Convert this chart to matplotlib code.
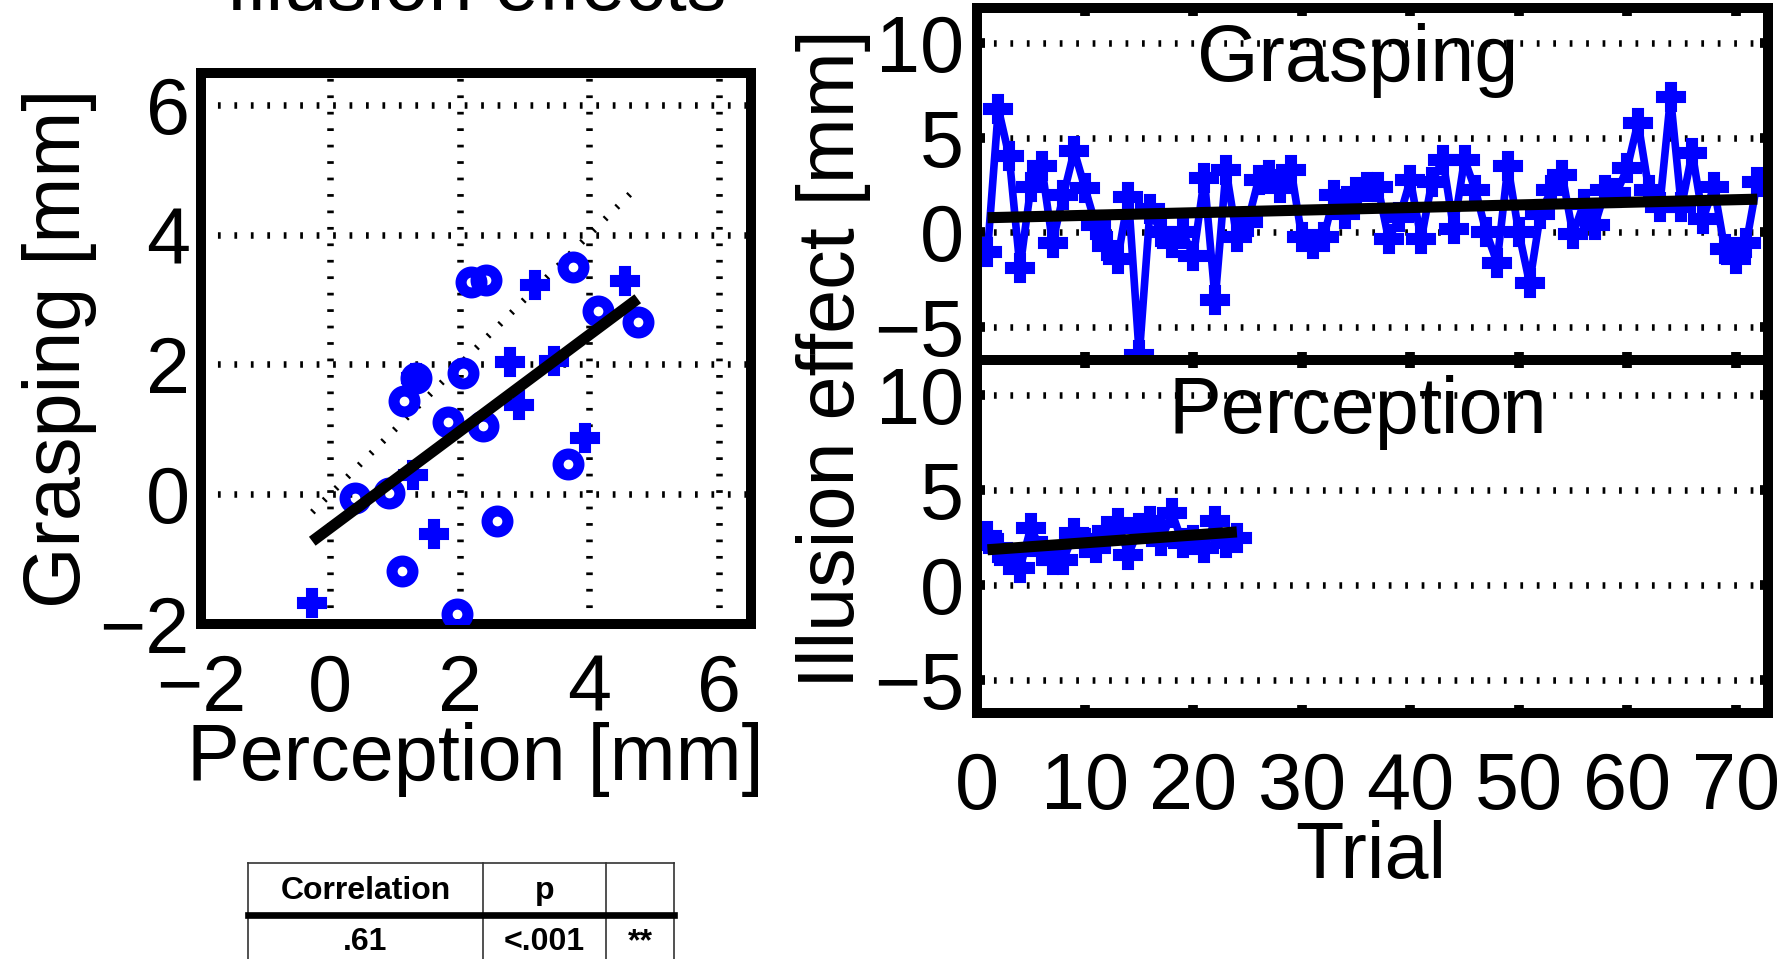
import numpy as np
import matplotlib
matplotlib.use('Agg')
import matplotlib.pyplot as plt

plt.rcParams['font.family'] = ['Liberation Sans', 'DejaVu Sans']

# Efectos de la ilusion por sujeto [mm]
perc_circ = [2.17, 2.40, 3.75, 4.13, 4.75, 2.05, 1.32, 1.13, 1.82, 2.36, 3.68, 0.38, 0.90, 2.58, 1.10, 1.96]
grasp_circ = [3.27, 3.30, 3.50, 2.83, 2.65, 1.87, 1.79, 1.44, 1.11, 1.05, 0.47, -0.06, 0.01, -0.41, -1.19, -1.85]
perc_plus = [3.17, 4.55, 2.78, 3.46, 2.92, 3.94, 1.28, 1.60, -0.28, 1.32]
grasp_plus = [3.22, 3.29, 2.04, 2.06, 1.37, 0.86, 0.29, -0.62, -1.68, 1.79]
ajuste_pendiente = 0.744
ajuste_intercepto = -0.52

# Efecto por ensayo
grasp_ensayos = [-1.04, 6.52, 4.02, -1.88, 2.41, 3.48, -0.54, 1.96, 4.29, 2.32,
                 0.36, -0.71, -1.43, 1.88, -6.5, 1.25, 0.0, -0.54, 0.0, -1.25,
                 2.86, -3.57, 3.3, -0.27, 0.54, 2.77, 3.04, 2.32, 3.3, -0.27,
                 -0.63, -0.27, 1.96, 0.98, 2.14, 2.41, 2.41, -0.36, 0.8, 2.77,
                 -0.36, 2.68, 3.84, 0.18, 3.84, 2.23, 0.0, -1.6, 3.48, 0.0,
                 -2.68, 0.98, 2.23, 3.04, -0.09, 1.52, 0.36, 2.23, 2.05, 3.39,
                 5.8, 2.23, 1.34, 7.14, 1.34, 4.2, 0.71, 2.41, -0.89, -1.43,
                 -0.54, 2.68]
perc_ensayos = [2.57, 1.95, 1.33, 0.89, 3.01, 1.77, 1.33, 1.33, 2.75, 2.22,
                1.95, 2.84, 3.28, 1.6, 3.01, 3.37, 2.3, 3.81, 2.22, 2.39,
                1.95, 3.37, 2.22, 2.48]
grasp_ajuste = (0.756, 0.0138)   # intercepto, pendiente
perc_ajuste = (1.81, 0.0409)

# Tabla de correlacion
tabla_cab = ['Correlation', 'p', '']
tabla_fila = ['.61', '<.001', '**']

azul = '#0000ff'
fs = 57
estilo_grid = dict(color='k', lw=4.7, ls=(0, (0.42, 2.1)))

fig = plt.figure(figsize=(17.77, 9.59), dpi=100)

# ---- Diagrama de dispersion ----
ax1 = fig.add_axes([0.1131, 0.3497, 0.3095, 0.5743])
ax1.set_xlim(-2, 6.5)
ax1.set_ylim(-2, 6.5)
ax1.set_xticks([-2, 0, 2, 4, 6])
ax1.set_yticks([-2, 0, 2, 4, 6])
ax1.grid(True, zorder=0, **estilo_grid)
ax1.set_axisbelow(True)

todos_x = np.array(perc_circ + perc_plus)
x_lin = np.array([todos_x.min(), todos_x.max()])
ax1.plot(x_lin, x_lin, color='k', lw=4.5, ls=(0, (0.35, 2.3)), zorder=1)
ax1.plot(perc_plus, grasp_plus, 'P', color=azul, mec=azul, ms=20, mew=1.5, zorder=2)
ax1.plot(perc_circ, grasp_circ, 'o', mec=azul, mfc='none', ms=15, mew=8, zorder=3)
ax1.plot(x_lin, ajuste_intercepto + ajuste_pendiente * x_lin, color='k', lw=8,
         solid_capstyle='butt', zorder=4)
ax1.tick_params(length=0, labelsize=fs)
ax1.tick_params(axis='x', pad=21)
ax1.tick_params(axis='y', pad=8)
for s in ax1.spines.values():
    s.set_linewidth(7.2)

fig.text(0.2679, 1 - 10 / 959, 'Illusion effects', ha='center', va='baseline', fontsize=fs)
fig.text(0.0335, 0.6371, 'Grasping [mm]', rotation=90, ha='center', va='center', fontsize=fs)
fig.text(0.2676, 0.2085, 'Perception [mm]', ha='center', va='center', fontsize=fs)

# ---- Series por ensayo ----
ax2 = fig.add_axes([0.5496, 0.6246, 0.4454, 0.3670])
ax3 = fig.add_axes([0.5496, 0.2565, 0.4454, 0.3681])
paneles = [(ax2, grasp_ensayos, grasp_ajuste, 'Grasping'),
           (ax3, perc_ensayos, perc_ajuste, 'Perception')]
for ax, datos, ajuste, nombre in paneles:
    ens = np.arange(1, len(datos) + 1)
    ax.plot(ens, datos, '-P', color=azul, mec=azul, lw=5.5, ms=20, mew=1.5, zorder=2)
    xe = np.array([ens[0], ens[-1]])
    ax.plot(xe, ajuste[0] + ajuste[1] * xe, color='k', lw=8, solid_capstyle='butt', zorder=3)
    ax.set_xlim(0, 73)
    ax.set_ylim(-6.75, 11.85)
    ax.set_xticks(np.arange(0, 71, 10))
    ax.set_yticks([-5, 0, 5, 10])
    ax.yaxis.grid(True, zorder=0, **estilo_grid)
    ax.set_axisbelow(True)
    ax.tick_params(direction='in', length=6, width=7, labelsize=fs,
                   top=True, right=True)
    ax.tick_params(axis='y', pad=9)
    ax.tick_params(axis='x', pad=27)
    for s in ax.spines.values():
        s.set_linewidth(7.2)
    ax.text(0.481, 0.792, nombre, transform=ax.transAxes, ha='center',
            va='baseline', fontsize=fs)
ax2.tick_params(labelbottom=False)

fig.text(0.4688, 0.6257, 'Illusion effect [mm]', rotation=90, ha='center', va='center', fontsize=fs)
fig.text(0.7715, 1 - 878 / 959, 'Trial', ha='center', va='baseline', fontsize=fs)

# ---- Tabla ----
axt = fig.add_axes([0.1397, -0.0087, 0.2396, 0.1091])
axt.set_xlim(0, 1)
axt.set_ylim(0, 1)
axt.set_axis_off()
bordes = [0, 0.5506, 0.8403, 1]
for b in bordes:
    axt.plot([b, b], [0, 1], color='#333333', lw=1.2, clip_on=False)
axt.plot([0, 1], [1, 1], color='#333333', lw=1.2, clip_on=False)
axt.plot([0, 1], [0.5, 0.5], color='k', lw=4.8, clip_on=False)
for i in range(3):
    xc = (bordes[i] + bordes[i + 1]) / 2
    axt.text(xc, 0.73, tabla_cab[i], ha='center', va='center', fontsize=23,
             fontweight='bold')
    axt.text(xc, 0.24, tabla_fila[i], ha='center', va='center', fontsize=23,
             fontweight='bold')

fig.savefig('out.png', dpi=100)
